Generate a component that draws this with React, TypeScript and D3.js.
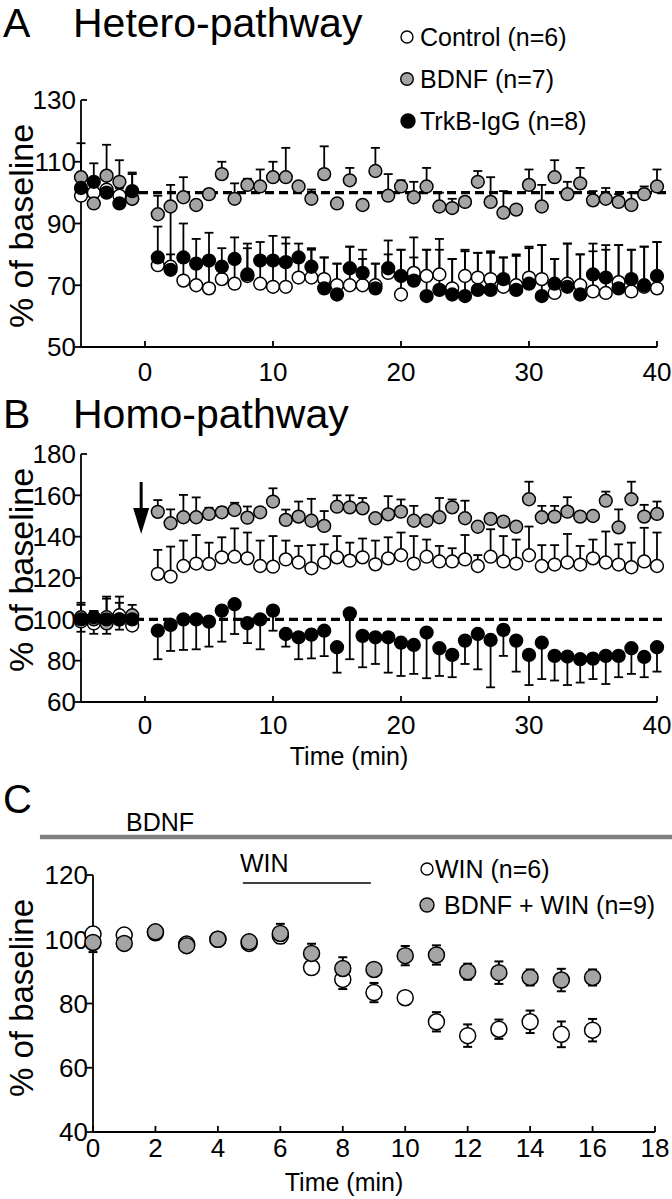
import React, { useEffect } from 'react';
import * as d3 from 'd3';

const FONT = '"Liberation Sans", Arial, Helvetica, sans-serif';
const GRAY = '#a4a4a4';

// ---------- Panel A / B time points (min) ----------
const minutesAB = [-5, -4, -3, -2, -1, 1, 2, 3, 4, 5, 6, 7, 8, 9, 10, 11, 12, 13, 14, 15, 16, 17, 18, 19, 20,
  21, 22, 23, 24, 25, 26, 27, 28, 29, 30, 31, 32, 33, 34, 35, 36, 37, 38, 39, 40];

// ---------- Panel A: Hetero-pathway ----------
const aControl = [99, 100, 101, 99, 98,
  76.5, 76, 71.5, 70, 69, 72, 70.5, 73, 70.5, 69.5, 69.5, 72.5, 72.5, 72, 70, 70, 70, 70, 74, 67,
  74, 73, 73.5, 69, 73, 72.5, 72, 69.5, 70, 72.5, 72, 67.5, 70.5, 70, 68, 67.5, 71, 68, 69.5, 69];
const aControlErr = [3, 3, 4, 3, 3,
  3, 4, 6, 8, 10, 4, 9, 9, 9, 9, 14, 5, 9, 7, 7, 12.5, 8.5, 7, 6, 14.5,
  5, 8.5, 8, 9.5, 8, 8, 9, 9.5, 10, 9.5, 11, 11, 13, 10, 13, 14, 12, 13.5, 13, 15];
const aBDNF = [105, 96.5, 105.5, 103.5, 98,
  93, 95.5, 98.5, 96, 99.5, 106, 98, 102.5, 102, 105, 105, 102, 98, 106, 96.5, 104, 96, 107, 99, 102,
  98.5, 102, 95.5, 95, 97, 103.5, 97, 93.5, 94.5, 102.5, 95.5, 105, 99.5, 103, 97.5, 98, 97, 96, 99.5, 102];
const aBDNFErr = [11, 2, 10, 7, 8,
  6, 7, 6.5, 0, 0, 4, 5, 2, 5.5, 5, 9.5, 1, 3, 9, 0, 4, 0, 7.5, 7, 2,
  5, 6, 4.5, 3, 0, 3.5, 8, 7, 0, 5, 7, 5.5, 4, 5, 3, 3.5, 2.5, 4, 2.5, 5.5];
const aTrkB = [101.5, 103.5, 100, 96.5, 100.5,
  79, 75, 79, 77, 78, 76, 78.5, 73.5, 78, 78, 77.5, 79, 76, 69, 67, 75.5, 74, 69, 75.5, 73,
  71.5, 66.5, 68.5, 67, 66.5, 68.5, 68.5, 72, 68.5, 70.5, 66.5, 70.5, 69.5, 67, 73.5, 72.5, 69, 72, 70, 73];
const aTrkBErr = [5, 6, 5, 5, 6,
  10, 22, 11, 8, 9, 6, 7, 10, 6, 8, 8, 4.5, 6, 10, 10, 7, 7.5, 8, 9, 8.5,
  14, 15, 16.5, 11.5, 15, 12, 12, 7, 11, 12, 16.5, 8, 14, 13, 10, 10.5, 14, 9.5, 12.5, 11];

// ---------- Panel B: Homo-pathway ----------
const bControl = [99, 98, 101, 102, 97,
  122, 120.7, 125.8, 127, 126.8, 130, 130.3, 129.5, 125.8, 125.5, 129, 127.5, 124.7, 127.5, 130, 128.4, 130, 126.6, 129.5, 131,
  127, 130.3, 128, 128, 129, 125.8, 130.3, 128, 127, 131, 125.8, 126.5, 127.5, 126.5, 129.5, 127.5, 126.5, 125.2, 128, 125.8];
const bControlErr = [8, 6, 10, 9, 5,
  11.6, 14.5, 12.3, 13.8, 10.3, 9.7, 13.7, 12.5, 12.3, 14.8, 9.1, 8, 11.2, 8.8, 10.3, 8.7, 9.1, 11.5, 10.2, 11,
  13.3, 8.3, 7.5, 6.4, 11.8, 5.3, 13.3, 12.3, 11.6, 13.9, 10.1, 9.4, 13.8, 9, 9.1, 15, 9.8, 11.9, 16.3, 16.2];
const bBDNF = [101, 100, 98, 100, 102,
  152, 146.5, 149.4, 149.4, 151, 151.8, 152.9, 149.2, 151.8, 157, 148.1, 149.7, 147.7, 145.2, 154.5, 154.2, 153.7, 148.9, 150.8, 152.1,
  147.7, 147.7, 149.4, 154.2, 148.9, 144.8, 148.6, 147.3, 144.8, 158.1, 149.4, 149.7, 152.1, 149.7, 150, 157.4, 144.5, 158.1, 149.7, 151];
const bBDNFErr = [7, 4, 12, 8, 5,
  5.7, 6.7, 10.8, 9.6, 3, 2.4, 3.5, 5.4, 2, 6.4, 5, 7.3, 10.6, 7.2, 5.5, 5.8, 5, 0, 8.8, 5.9,
  7.2, 0, 9.3, 3.8, 8.5, 0, 0, 0, 0, 8.5, 5.5, 5.2, 7, 0, 0, 4.4, 8.7, 8.5, 5.7, 6];
const bTrkB = [100, 101, 100, 100, 100,
  94.5, 97.3, 100, 100, 98.9, 104.2, 107.3, 98.1, 100, 104.2, 92.9, 91.3, 92.6, 94.5, 86.5, 102.9, 92, 91.3, 91.3, 88.7,
  87.6, 93.6, 86, 82.8, 89.7, 92.9, 90, 94.9, 89.7, 82.8, 88.7, 82.3, 82, 80.7, 81, 82.3, 82.3, 86, 81.8, 86.5];
const bTrkBErr = [6, 8, 7, 5, 4,
  13.8, 12.6, 14.8, 14.5, 12.1, 15, 14.4, 9.6, 14.5, 9.7, 6.1, 10.6, 11.5, 12.3, 12.3, 22.2, 15.2, 12.9, 17.1, 16.1,
  14, 22.1, 13.4, 10.8, 11.3, 17.1, 22.9, 12.6, 15, 14.6, 17.6, 11.9, 13.8, 11.3, 9.9, 13.6, 10.3, 12.4, 9.8, 11.8];

// ---------- Panel C ----------
const minutesC = [0, 1, 2, 3, 4, 5, 6, 7, 8, 9, 10, 11, 12, 13, 14, 15, 16];
const cWIN = [101.6, 101.3, 102, 98.5, 100, 98.7, 101, 91.2, 87.5, 83.4, 81.8, 74.3, 70, 72, 74.3, 70.4, 71.7];
const cWINErr = [2, 1, 1, 1.5, 1, 1, 2, 1, 3, 3, 0, 3, 3.5, 3, 3.5, 4, 3.5];
const cBDNFWIN = [99, 98.7, 102.3, 98, 100, 99.2, 101.8, 95.6, 90.9, 90.6, 94.9, 95.1, 89.9, 89.6, 88.1, 87.3, 88.1];
const cBDNFWINErr = [3, 1, 1, 1, 1, 1.5, 3, 3, 3.5, 2, 3, 3, 2.5, 3.5, 2.5, 3.5, 2.5];

// ---------- ticks ----------
const xTicksAB = [0, 10, 20, 30, 40];
const yTicksA = [50, 70, 90, 110, 130];
const yTicksB = [60, 80, 100, 120, 140, 160, 180];
const xTicksC = [0, 2, 4, 6, 8, 10, 12, 14, 16, 18];
const yTicksC = [40, 60, 80, 100, 120];

function ErrBars({ xs, ys, errs, x, y, dir, cap, sw }: any) {
  return (
    <g stroke="#000" strokeWidth={sw} fill="none">
      {xs.map((t: number, i: number) => {
        const e = errs[i];
        if (!e) return null;
        const cx = x(t);
        const segs: number[][] = [];
        if (dir === 'up' || dir === 'both') segs.push([y(ys[i]), y(ys[i] + e)]);
        if (dir === 'down' || dir === 'both') segs.push([y(ys[i]), y(ys[i] - e)]);
        return (
          <g key={i}>
            {segs.map((s, j) => (
              <g key={j}>
                <line x1={cx} x2={cx} y1={s[0]} y2={s[1]} />
                <line x1={cx - cap} x2={cx + cap} y1={s[1]} y2={s[1]} />
              </g>
            ))}
          </g>
        );
      })}
    </g>
  );
}

function Dots({ xs, ys, x, y, fill, r }: any) {
  return (
    <g>
      {xs.map((t: number, i: number) => (
        <circle key={i} cx={x(t)} cy={y(ys[i])} r={r} fill={fill} stroke="#000" strokeWidth={1.5} />
      ))}
    </g>
  );
}

function YAxis({ y, ticks, x0, fs, topRight }: any) {
  const r = y.range();
  const top = ticks[ticks.length - 1];
  return (
    <g>
      <line x1={x0} x2={x0} y1={r[0]} y2={r[1]} stroke="#000" strokeWidth={1.8} />
      {ticks.map((t: number) => (
        <g key={t}>
          {topRight && t === top ? (
            <line x1={x0} x2={x0 + 6} y1={y(t)} y2={y(t)} stroke="#000" strokeWidth={1.8} />
          ) : (
            <line x1={x0 - 6} x2={x0} y1={y(t)} y2={y(t)} stroke="#000" strokeWidth={1.8} />
          )}
          <text x={x0 - 5} y={y(t)} dy="0.36em" textAnchor="end" fontSize={fs} fontFamily={FONT}>{t}</text>
        </g>
      ))}
    </g>
  );
}

function XAxis({ x, ticks, y0, fs, labelY, x0 }: any) {
  return (
    <g>
      <line x1={x0} x2={x.range()[1]} y1={y0} y2={y0} stroke="#000" strokeWidth={1.8} />
      {ticks.map((t: number) => (
        <g key={t}>
          <line x1={x(t)} x2={x(t)} y1={y0} y2={y0 - 6} stroke="#000" strokeWidth={1.8} />
          <text x={x(t)} y={labelY} textAnchor="middle" fontSize={fs} fontFamily={FONT}>{t}</text>
        </g>
      ))}
    </g>
  );
}

export default function App() {
  useEffect(() => {
    document.body.style.margin = '0';
  }, []);

  const xAB = d3.scaleLinear().domain([-5, 40]).range([81, 657]);
  const yA = d3.scaleLinear().domain([50, 130]).range([347, 100]);
  const yB = d3.scaleLinear().domain([60, 180]).range([702, 454]);
  const xC = d3.scaleLinear().domain([0, 18]).range([93, 655]);
  const yC = d3.scaleLinear().domain([40, 120]).range([1132, 875]);

  const r = 6.4;
  const cap = 4.5;
  const baseIdx = [0, 1, 2, 3, 4];
  const postIdx = minutesAB.map((_, i) => i).filter((i) => i >= 5);
  const pick = (arr: number[], idx: number[]) => idx.map((i) => arr[i]);
  const bx = pick(minutesAB, baseIdx);
  const px = pick(minutesAB, postIdx);

  const arrowX = xAB(-0.3);

  return (
    <div style={{ position: 'absolute', left: 0, top: 0 }}>
      <svg width={672} height={1199} viewBox="0 0 672 1199" style={{ display: 'block', background: '#fff' }}>
        <rect x={0} y={0} width={672} height={1199} fill="#fff" />

        {/* ================= Panel A ================= */}
        <text x={3} y={37} fontSize={41} fontFamily={FONT}>A</text>
        <text x={73} y={37} fontSize={41} fontFamily={FONT}>Hetero-pathway</text>

        <circle cx={407} cy={37} r={6} fill="#fff" stroke="#000" strokeWidth={1.4} />
        <text x={420} y={46} fontSize={25} fontFamily={FONT}>Control (n=6)</text>
        <circle cx={407} cy={79} r={6.3} fill={GRAY} stroke="#000" strokeWidth={1.4} />
        <text x={420} y={88} fontSize={25} fontFamily={FONT}>BDNF (n=7)</text>
        <circle cx={408} cy={121} r={7} fill="#000" stroke="#000" strokeWidth={1.4} />
        <text x={420} y={130} fontSize={25} fontFamily={FONT}>TrkB-IgG (n=8)</text>

        <text transform={`translate(33,${226}) rotate(-90)`} textAnchor="middle" fontSize={34} fontFamily={FONT}>% of baseline</text>

        <YAxis y={yA} ticks={yTicksA} x0={81} fs={26} topRight />
        <XAxis x={xAB} ticks={xTicksAB} y0={347} fs={26} labelY={381} x0={81} />

        <line x1={83} x2={670} y1={yA(100)} y2={yA(100)} stroke="#000" strokeWidth={3.2} strokeDasharray="9,5" />

        <ErrBars xs={minutesAB} ys={aControl} errs={aControlErr} x={xAB} y={yA} dir="up" cap={cap} sw={1.8} />
        <ErrBars xs={minutesAB} ys={aBDNF} errs={aBDNFErr} x={xAB} y={yA} dir="up" cap={cap} sw={1.8} />
        <ErrBars xs={minutesAB} ys={aTrkB} errs={aTrkBErr} x={xAB} y={yA} dir="up" cap={cap} sw={1.8} />
        <Dots xs={minutesAB} ys={aControl} x={xAB} y={yA} fill="#fff" r={r} />
        <Dots xs={minutesAB} ys={aBDNF} x={xAB} y={yA} fill={GRAY} r={r} />
        <Dots xs={minutesAB} ys={aTrkB} x={xAB} y={yA} fill="#000" r={r} />

        {/* ================= Panel B ================= */}
        <text x={3} y={428} fontSize={41} fontFamily={FONT}>B</text>
        <text x={73} y={428} fontSize={41} fontFamily={FONT}>Homo-pathway</text>

        <text transform={`translate(33,${570}) rotate(-90)`} textAnchor="middle" fontSize={34} fontFamily={FONT}>% of baseline</text>

        <YAxis y={yB} ticks={yTicksB} x0={81} fs={26} topRight />
        <XAxis x={xAB} ticks={xTicksAB} y0={702} fs={26} labelY={734} x0={81} />
        <text x={349} y={765} textAnchor="middle" fontSize={25} fontFamily={FONT}>Time (min)</text>

        <line x1={135} x2={663} y1={yB(100)} y2={yB(100)} stroke="#000" strokeWidth={3.2} strokeDasharray="9,5" />

        {/* arrow */}
        <line x1={arrowX} x2={arrowX} y1={482} y2={512} stroke="#000" strokeWidth={3} />
        <polygon points={`${arrowX - 8},${508} ${arrowX + 8},${508} ${arrowX},${534}`} fill="#000" />

        <ErrBars xs={bx} ys={pick(bControl, baseIdx)} errs={pick(bControlErr, baseIdx)} x={xAB} y={yB} dir="up" cap={cap} sw={1.8} />
        <ErrBars xs={bx} ys={pick(bBDNF, baseIdx)} errs={pick(bBDNFErr, baseIdx)} x={xAB} y={yB} dir="up" cap={cap} sw={1.8} />
        <ErrBars xs={bx} ys={pick(bTrkB, baseIdx)} errs={pick(bTrkBErr, baseIdx)} x={xAB} y={yB} dir="down" cap={cap} sw={1.8} />
        <ErrBars xs={px} ys={pick(bControl, postIdx)} errs={pick(bControlErr, postIdx)} x={xAB} y={yB} dir="up" cap={cap} sw={1.8} />
        <ErrBars xs={px} ys={pick(bBDNF, postIdx)} errs={pick(bBDNFErr, postIdx)} x={xAB} y={yB} dir="up" cap={cap} sw={1.8} />
        <ErrBars xs={px} ys={pick(bTrkB, postIdx)} errs={pick(bTrkBErr, postIdx)} x={xAB} y={yB} dir="down" cap={cap} sw={1.8} />
        <Dots xs={minutesAB} ys={bControl} x={xAB} y={yB} fill="#fff" r={r} />
        <Dots xs={minutesAB} ys={bBDNF} x={xAB} y={yB} fill={GRAY} r={r} />
        <Dots xs={minutesAB} ys={bTrkB} x={xAB} y={yB} fill="#000" r={r} />

        {/* ================= Panel C ================= */}
        <text x={3} y={813} fontSize={40} fontFamily={FONT}>C</text>
        <text x={126} y={831} fontSize={25} fontFamily={FONT}>BDNF</text>
        <line x1={xC(-1.7)} x2={672} y1={837} y2={837} stroke="#808080" strokeWidth={4.5} />
        <text x={240} y={872} fontSize={25} fontFamily={FONT}>WIN</text>
        <line x1={xC(4.8)} x2={xC(8.9)} y1={883} y2={883} stroke="#000" strokeWidth={1.5} />

        <circle cx={427} cy={869} r={6} fill="#fff" stroke="#000" strokeWidth={1.4} />
        <text x={435} y={878} fontSize={25} fontFamily={FONT}>WIN (n=6)</text>
        <circle cx={427} cy={905} r={7} fill={GRAY} stroke="#000" strokeWidth={1.4} />
        <text x={444} y={914} fontSize={25} fontFamily={FONT}>BDNF + WIN (n=9)</text>

        <text transform={`translate(33,${998}) rotate(-90)`} textAnchor="middle" fontSize={33} fontFamily={FONT}>% of baseline</text>

        <YAxis y={yC} ticks={yTicksC} x0={93} fs={26} />
        <XAxis x={xC} ticks={xTicksC} y0={1132} fs={26} labelY={1157} x0={93} />
        <text x={344} y={1191} textAnchor="middle" fontSize={25} fontFamily={FONT}>Time (min)</text>

        <ErrBars xs={minutesC} ys={cWIN} errs={cWINErr} x={xC} y={yC} dir="both" cap={4.5} sw={2} />
        <ErrBars xs={minutesC} ys={cBDNFWIN} errs={cBDNFWINErr} x={xC} y={yC} dir="both" cap={4.5} sw={2} />
        <Dots xs={minutesC} ys={cWIN} x={xC} y={yC} fill="#fff" r={8} />
        <Dots xs={minutesC} ys={cBDNFWIN} x={xC} y={yC} fill={GRAY} r={8} />
      </svg>
    </div>
  );
}
